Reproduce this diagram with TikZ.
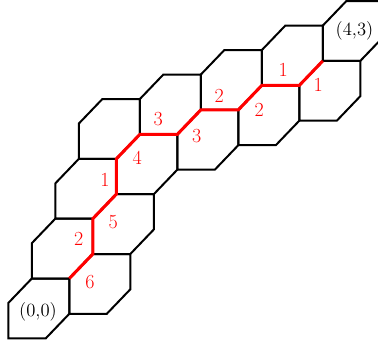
\documentclass[tikz,border=0pt]{standalone}
\usepackage{tikz}

\tikzset{
  hexcell/.style={line width=1.5pt, line join=miter, color=black},
  redpath/.style={line width=2.3pt, color=red, line join=miter},
  numlbl/.style={text=red, inner sep=0.75pt, font=\fontsize{15}{18}\selectfont},
  celllbl/.style={text=black, inner sep=0.75pt, font=\fontsize{14}{16}\selectfont}
}

\begin{document}
\begin{tikzpicture}[x=0.75pt,y=0.75pt,yscale=-1,xscale=1]
\useasboundingbox (0,0) rectangle (378,343);

%Shape: Hexagon (0,0)
\draw [hexcell] (8.3,338.3) -- (45.8,338.3) -- (69.3,313.8) -- (69.3,278.5) -- (31.8,278.5) -- (8.3,303) -- cycle ;
%Shape: Hexagon (1,0)
\draw [hexcell] (69.3,313.8) -- (106.8,313.8) -- (130.3,289.3) -- (130.3,254) -- (92.8,254) -- (69.3,278.5) -- cycle ;
%Shape: Hexagon (0,1)
\draw [hexcell] (31.8,278.5) -- (69.3,278.5) -- (92.8,254) -- (92.8,218.7) -- (55.3,218.7) -- (31.8,243.2) -- cycle ;
%Shape: Hexagon (1,1)
\draw [hexcell] (92.8,254) -- (130.3,254) -- (153.8,229.5) -- (153.8,194.2) -- (116.3,194.2) -- (92.8,218.7) -- cycle ;
%Shape: Hexagon (0,2)
\draw [hexcell] (55.3,218.7) -- (92.8,218.7) -- (116.3,194.2) -- (116.3,158.9) -- (78.8,158.9) -- (55.3,183.4) -- cycle ;
%Shape: Hexagon (1,2)
\draw [hexcell] (116.3,194.2) -- (153.8,194.2) -- (177.3,169.7) -- (177.3,134.4) -- (139.8,134.4) -- (116.3,158.9) -- cycle ;
%Shape: Hexagon (2,2)
\draw [hexcell] (177.3,169.7) -- (214.8,169.7) -- (238.3,145.2) -- (238.3,109.9) -- (200.8,109.9) -- (177.3,134.4) -- cycle ;
%Shape: Hexagon (3,2)
\draw [hexcell] (238.3,145.2) -- (275.8,145.2) -- (299.3,120.7) -- (299.3,85.4) -- (261.8,85.4) -- (238.3,109.9) -- cycle ;
%Shape: Hexagon (4,2)
\draw [hexcell] (299.3,120.7) -- (336.8,120.7) -- (360.3,96.2) -- (360.3,60.9) -- (322.8,60.9) -- (299.3,85.4) -- cycle ;
%Shape: Hexagon (0,3)
\draw [hexcell] (78.8,158.9) -- (116.3,158.9) -- (139.8,134.4) -- (139.8,99.1) -- (102.3,99.1) -- (78.8,123.6) -- cycle ;
%Shape: Hexagon (1,3)
\draw [hexcell] (139.8,134.4) -- (177.3,134.4) -- (200.8,109.9) -- (200.8,74.6) -- (163.3,74.6) -- (139.8,99.1) -- cycle ;
%Shape: Hexagon (2,3)
\draw [hexcell] (200.8,109.9) -- (238.3,109.9) -- (261.8,85.4) -- (261.8,50.1) -- (224.3,50.1) -- (200.8,74.6) -- cycle ;
%Shape: Hexagon (3,3)
\draw [hexcell] (261.8,85.4) -- (299.3,85.4) -- (322.8,60.9) -- (322.8,25.6) -- (285.3,25.6) -- (261.8,50.1) -- cycle ;
%Shape: Hexagon (4,3)
\draw [hexcell] (322.8,60.9) -- (360.3,60.9) -- (383.8,36.4) -- (383.8,1.1) -- (346.3,1.1) -- (322.8,25.6) -- cycle ;

%Red path from (0,0) to (4,3)
\draw [redpath] (69.3,278.5) -- (92.8,254) -- (92.8,218.7) -- (116.3,194.2) -- (116.3,158.9) -- (139.8,134.4) -- (177.3,134.4) -- (200.8,109.9) -- (238.3,109.9) -- (261.8,85.4) -- (299.3,85.4) -- (322.8,60.9) ;

% Text Node
\node [celllbl] (start) at (38,311.5) {(0,0)};
% Text Node
\node [celllbl] (goal) at (354.5,30.8) {(4,3)};

% Edge weights
\node [numlbl] (w6) at (90,281.7) {6};
\node [numlbl] (w2a) at (78.7,239) {2};
\node [numlbl] (w5) at (113.3,221.7) {5};
\node [numlbl] (w1a) at (105,180) {1};
\node [numlbl] (w4) at (137.3,158.3) {4};
\node [numlbl] (w3a) at (158.3,119.3) {3};
\node [numlbl] (w3b) at (196.7,136) {3};
\node [numlbl] (w2b) at (219.3,96) {2};
\node [numlbl] (w2c) at (259.3,110) {2};
\node [numlbl] (w1b) at (283.3,70) {1};
\node [numlbl] (w1c) at (318.3,85) {1};

\end{tikzpicture}
\end{document}
